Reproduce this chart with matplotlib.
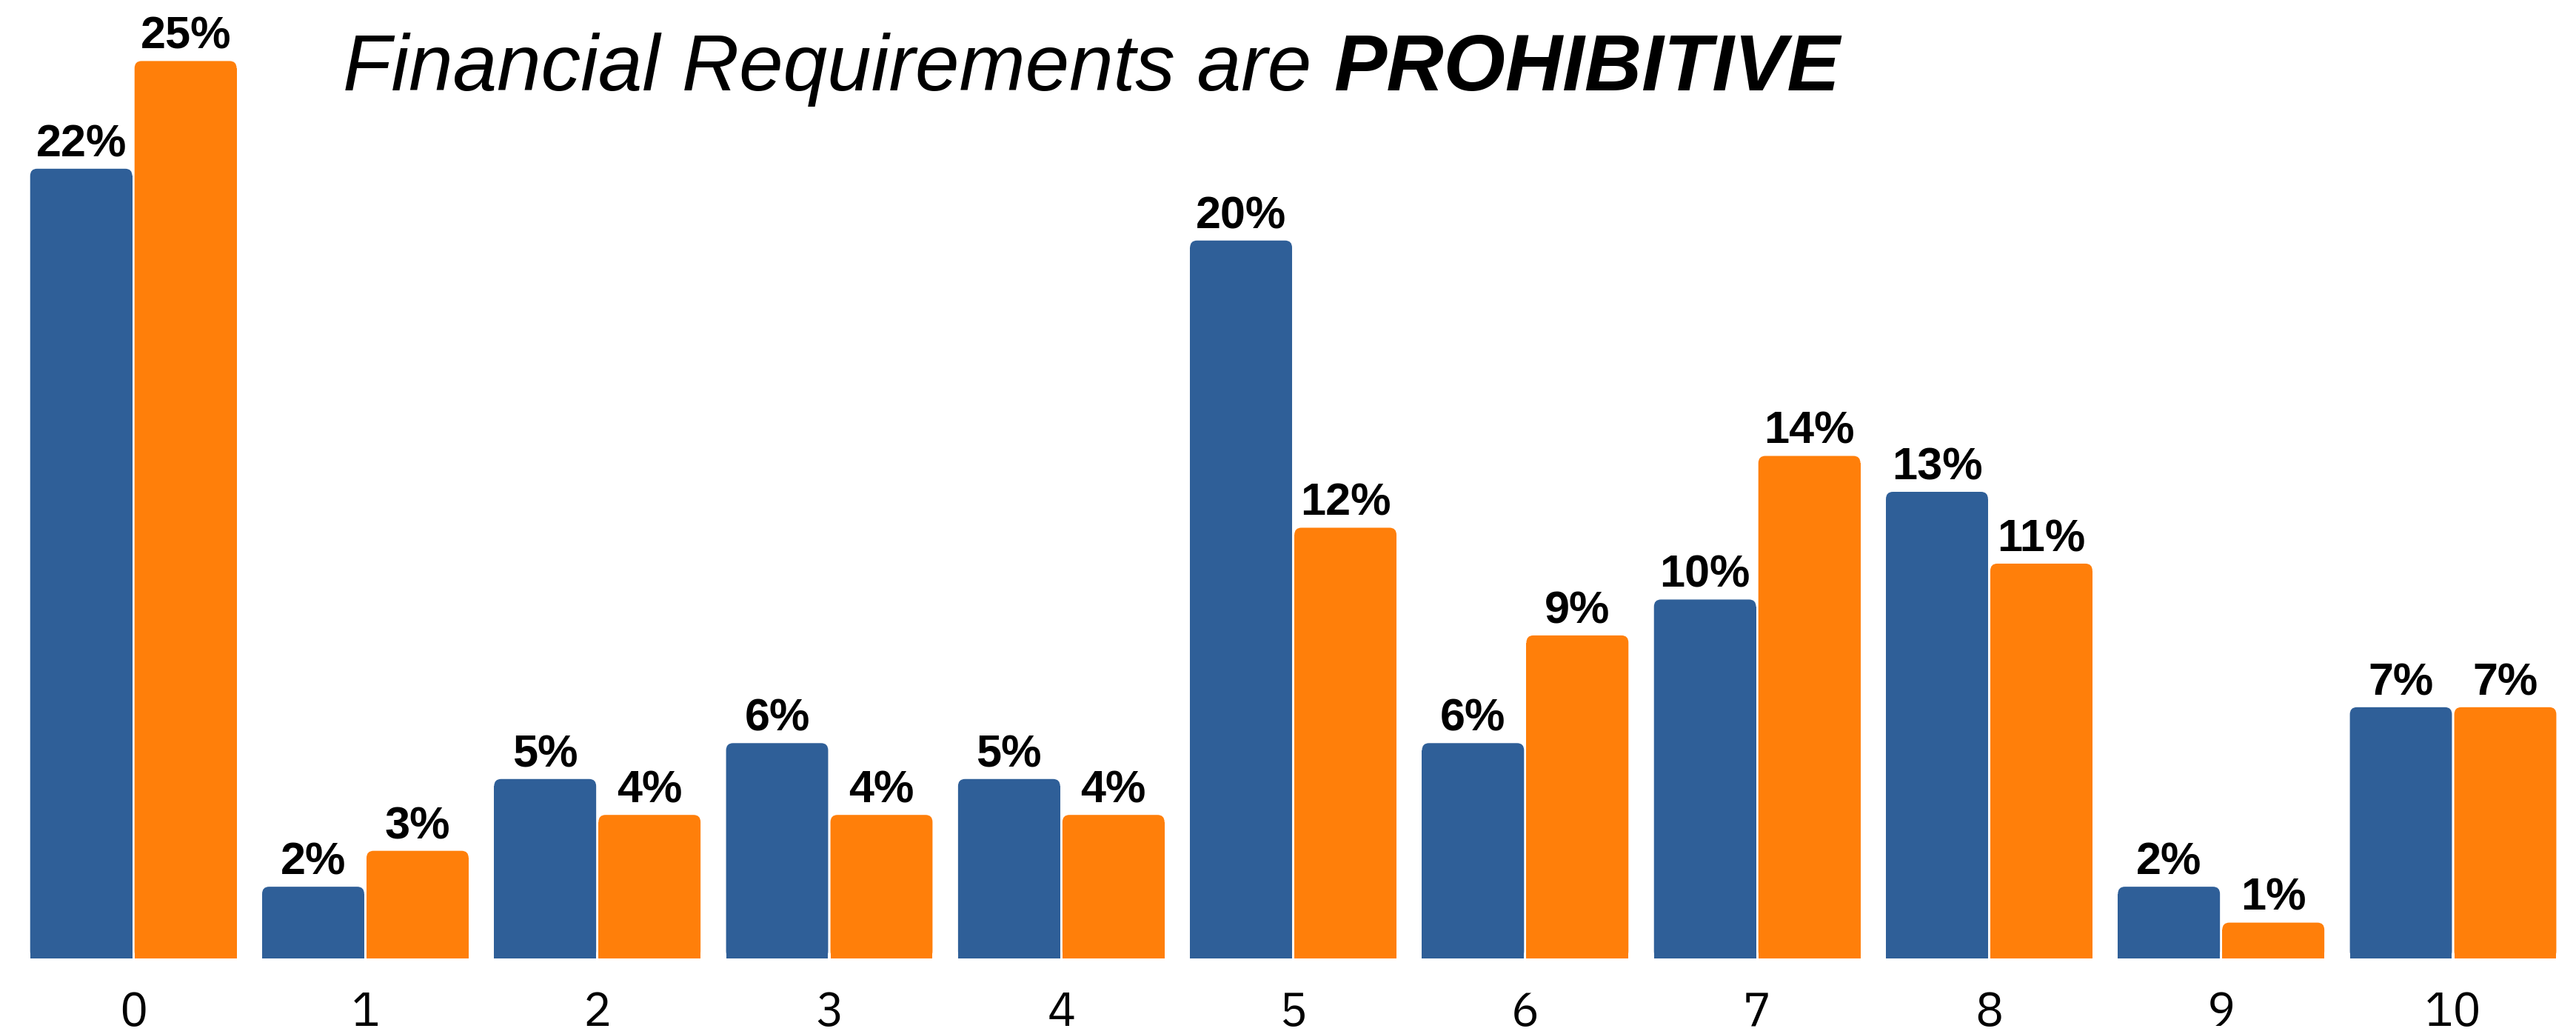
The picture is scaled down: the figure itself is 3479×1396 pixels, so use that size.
import numpy as np
import matplotlib.pyplot as plt
from matplotlib import font_manager
from matplotlib.patches import FancyBboxPatch

# survey answers on a 0-10 scale, share of respondents per answer
scores = [0, 1, 2, 3, 4, 5, 6, 7, 8, 9, 10]
group_a = [22, 2, 5, 6, 5, 20, 6, 10, 13, 2, 7]
group_b = [25, 3, 4, 4, 4, 12, 9, 14, 11, 1, 7]

blue = '#2f5f98'
orange = '#ff7f0a'

names = {f.name for f in font_manager.fontManager.ttflist}
tick_font = 'IBM Plex Sans' if 'IBM Plex Sans' in names else 'DejaVu Sans'
plt.rcParams['font.family'] = ['Liberation Sans', 'DejaVu Sans']

fig = plt.figure(figsize=(34.8, 13.96), dpi=100)
ax = fig.add_axes([0, 0.073, 1, 0.927])

x = np.arange(len(scores))
w = 0.44
off = 0.225

ax.set_xlim(-0.575, 10.533)
ax.set_ylim(0, 26.7)

# rounded top corners: radius in data units on each axis
rx = 0.03
ry = 0.2


def rounded_bars(xs, vals, color):
    bars = ax.bar(xs, vals, width=w, color=color, linewidth=0)
    for b in bars:
        bx, by = b.get_x(), b.get_y()
        bw, bh = b.get_width(), b.get_height()
        # square off the lower part, round the top
        b.set_height(max(bh - ry, 0))
        p = FancyBboxPatch((bx, by), bw, bh,
                           boxstyle='round,pad=0,rounding_size=%f' % rx,
                           mutation_aspect=ry / rx,
                           facecolor=color, linewidth=0)
        ax.add_patch(p)
    return bars


rounded_bars(x - off, group_a, blue)
rounded_bars(x + off, group_b, orange)

for xs, vals in ((x - off, group_a), (x + off, group_b)):
    for xi, v in zip(xs, vals):
        ax.annotate('%d%%' % v, (xi, v), xytext=(0, 12), textcoords='offset points',
                    ha='center', va='baseline', fontsize=44, fontweight='bold')

ax.set_xticks(x)
ax.set_xticklabels([str(s) for s in scores], fontsize=46, family=tick_font,
                   fontweight='light')
ax.tick_params(axis='x', length=0, pad=31)
ax.set_yticks([])
for s in ax.spines.values():
    s.set_visible(False)

# title: italic text followed by a bold italic word
t1 = fig.text(0.133, 0.9126, 'Financial Requirements are ', fontsize=77,
              style='italic', ha='left', va='baseline')
fig.canvas.draw()
bb = t1.get_window_extent()
x2 = bb.x1 / fig.bbox.width
fig.text(x2, 0.9126, 'PROHIBITIVE', fontsize=77, style='italic',
         fontweight='bold', ha='left', va='baseline')

fig.savefig('out.png', dpi=100, facecolor='white')
